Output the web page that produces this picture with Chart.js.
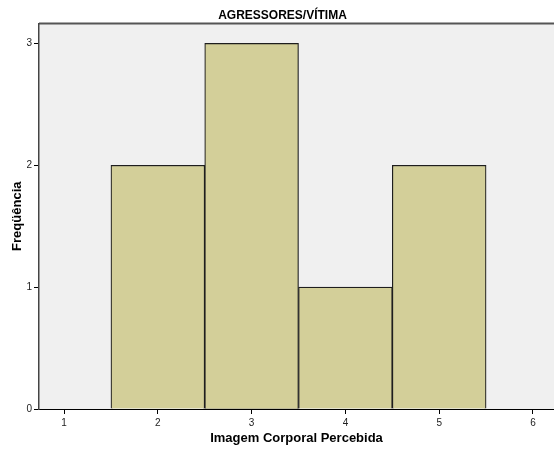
<!DOCTYPE html>
<html>
<head>
<meta charset="utf-8">
<script src="https://cdn.jsdelivr.net/npm/chart.js@4"></script>
<style>
  body { margin: 0; background: #fff; }
  #wrap { width: 554px; height: 450px; }
</style>
</head>
<body>
<div id="wrap"><canvas id="hist" width="554" height="450"></canvas></div>
<script>
// Dados do histograma
const binCenters = [2, 3, 4, 5];
const frequencies = [2, 3, 1, 2];
const xTicks = [1, 2, 3, 4, 5, 6];
const yTicks = [0, 1, 2, 3];
const chartTitle = "AGRESSORES/VÍTIMA";
const xLabel = "Imagem Corporal Percebida";
const yLabel = "Freqüência";

const FONT = "'Liberation Sans', Arial, Helvetica, sans-serif";

// fundo cinza e borda superior da area do grafico
const plotBackground = {
    id: "plotBackground",
    beforeDraw(chart) {
        const { ctx, chartArea: a } = chart;
        ctx.save();
        ctx.fillStyle = "#f0f0f0";
        ctx.fillRect(a.left, a.top, a.right - a.left, a.bottom - a.top);
        ctx.strokeStyle = "#555";
        ctx.lineWidth = 2;
        ctx.beginPath();
        ctx.moveTo(a.left, a.top);
        ctx.lineTo(a.right, a.top);
        ctx.stroke();
        ctx.restore();
    }
};

const ctx = document.getElementById("hist").getContext("2d");
new Chart(ctx, {
    type: "bar",
    data: {
        datasets: [{
            label: yLabel,
            data: binCenters.map((x, i) => ({ x: x, y: frequencies[i] })),
            backgroundColor: "#d3cf99",
            borderColor: "#1e1e1e",
            borderWidth: 1.2,
            borderSkipped: "bottom",
            barPercentage: 1,
            categoryPercentage: 1
        }]
    },
    options: {
        responsive: false,
        animation: false,
        layout: { padding: { left: 11, right: 0, top: 0, bottom: 0 } },
        plugins: {
            legend: { display: false },
            tooltip: { enabled: false },
            title: {
                display: true,
                text: chartTitle,
                color: "#000",
                font: { family: FONT, size: 12, weight: "bold", lineHeight: 1.2 },
                padding: { top: 8, bottom: 1 }
            }
        },
        scales: {
            x: {
                type: "linear",
                min: 0.733,
                max: 6.224,
                offset: false,
                afterBuildTicks: s => { s.ticks = xTicks.map(v => ({ value: v })); },
                afterFit: s => { s.height = 41; },
                grid: { drawOnChartArea: false, drawTicks: true, tickLength: 5, tickColor: "#000", offset: false },
                border: { color: "#000", width: 1 },
                ticks: { color: "#222", font: { family: FONT, size: 10 }, padding: 3, maxRotation: 0 },
                title: {
                    display: true,
                    text: xLabel,
                    color: "#000",
                    font: { family: FONT, size: 13, weight: "bold", lineHeight: 1.2 },
                    padding: { top: 0, bottom: 4 }
                }
            },
            y: {
                min: 0,
                max: 3.164,
                afterBuildTicks: s => { s.ticks = yTicks.map(v => ({ value: v })); },
                afterFit: s => { s.width = 28; },
                grid: { drawOnChartArea: false, drawTicks: true, tickLength: 5, tickColor: "#000" },
                border: { color: "#444", width: 1.5 },
                ticks: { color: "#222", font: { family: FONT, size: 10 }, padding: 2 },
                title: {
                    display: true,
                    text: yLabel,
                    color: "#000",
                    font: { family: FONT, size: 13, weight: "bold", lineHeight: 1 },
                    padding: { top: 0, bottom: 0 }
                }
            }
        }
    },
    plugins: [plotBackground]
});
</script>
</body>
</html>
